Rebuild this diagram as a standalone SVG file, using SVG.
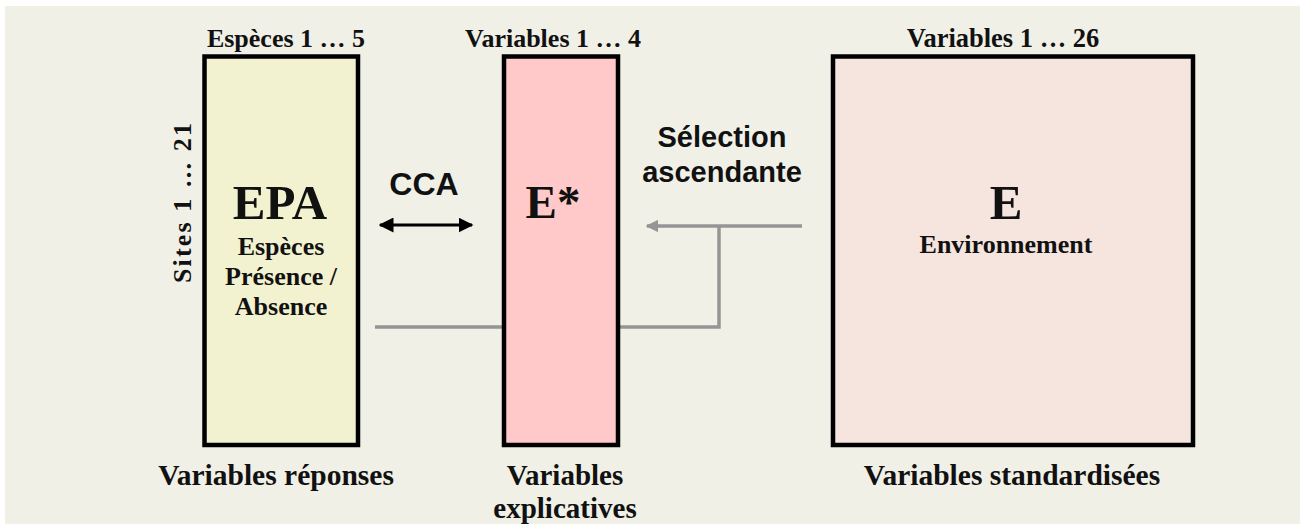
<svg xmlns="http://www.w3.org/2000/svg" width="1300" height="524" viewBox="0 0 1300 524">
  <style>
    .serif { font-family: "Liberation Serif", "Times New Roman", serif; font-weight: bold; fill: #111; }
    .sans { font-family: "Liberation Sans", Arial, sans-serif; font-weight: bold; fill: #111; }
    .box { stroke: #000; stroke-width: 4.5; }
    .gray { stroke: #959595; stroke-width: 3.5; fill: none; }
  </style>
  <defs>
    <marker id="blk" viewBox="0 0 10 10" refX="9" refY="5" markerWidth="5" markerHeight="5" orient="auto-start-reverse" markerUnits="strokeWidth">
      <path d="M0,0 L10,5 L0,10 z" fill="#000"/>
    </marker>
    <marker id="gry" viewBox="0 0 10 10" refX="9" refY="5" markerWidth="3.6" markerHeight="3.6" orient="auto" markerUnits="strokeWidth">
      <path d="M0,0 L10,5 L0,10 z" fill="#959595"/>
    </marker>
  </defs>
  <rect x="0" y="0" width="1300" height="524" fill="#ffffff"/>
  <rect x="5" y="6" width="1295" height="518" fill="#f0f0e7"/>

  <g id="connectors">
    <line x1="380" y1="225" x2="472" y2="225" stroke="#000" stroke-width="3" marker-start="url(#blk)" marker-end="url(#blk)"/>
    <line class="gray" x1="375" y1="327" x2="503" y2="327"/>
    <polyline class="gray" points="619,327 719,327 719,226"/>
    <line class="gray" x1="802" y1="226" x2="647" y2="226" marker-end="url(#gry)"/>
    <text class="sans" x="424" y="195" font-size="32" text-anchor="middle">CCA</text>
    <text class="sans" x="722" y="147" font-size="29" text-anchor="middle">Sélection</text>
    <text class="sans" x="722" y="182" font-size="29" text-anchor="middle">ascendante</text>
  </g>

  <g id="EPA">
    <rect class="box" x="204.5" y="56.5" width="153.5" height="388.5" fill="#f2f2d0"/>
    <text class="serif" x="286" y="47" font-size="26" text-anchor="middle">Espèces 1 … 5</text>
    <text class="serif" x="0" y="0" font-size="26" text-anchor="middle" transform="translate(191,203) rotate(-90)" textLength="160" lengthAdjust="spacing">Sites  1  …  21</text>
    <text class="serif" x="280" y="219" font-size="49" text-anchor="middle">EPA</text>
    <text class="serif" x="281" y="255" font-size="26" text-anchor="middle">Espèces</text>
    <text class="serif" x="281" y="285" font-size="26" text-anchor="middle">Présence /</text>
    <text class="serif" x="281" y="315" font-size="26" text-anchor="middle">Absence</text>
    <text class="serif" x="276" y="485" font-size="29.5" text-anchor="middle">Variables réponses</text>
  </g>

  <g id="Estar">
    <rect class="box" x="504" y="56.5" width="114" height="388.5" fill="#ffc9c9"/>
    <text class="serif" x="553" y="47" font-size="26" text-anchor="middle">Variables 1 … 4</text>
    <text class="serif" x="553" y="218" font-size="47" text-anchor="middle">E*</text>
    <text class="serif" x="565" y="485" font-size="29" text-anchor="middle">Variables</text>
    <text class="serif" x="565" y="518" font-size="29" text-anchor="middle">explicatives</text>
  </g>

  <g id="E">
    <rect class="box" x="833" y="56.5" width="360" height="388.5" fill="#f5e5de"/>
    <text class="serif" x="1003" y="47" font-size="26.5" text-anchor="middle">Variables 1 … 26</text>
    <text class="serif" x="1006" y="219" font-size="49" text-anchor="middle">E</text>
    <text class="serif" x="1006" y="253" font-size="26" text-anchor="middle">Environnement</text>
    <text class="serif" x="1012" y="485" font-size="29.5" text-anchor="middle">Variables standardisées</text>
  </g>
</svg>
